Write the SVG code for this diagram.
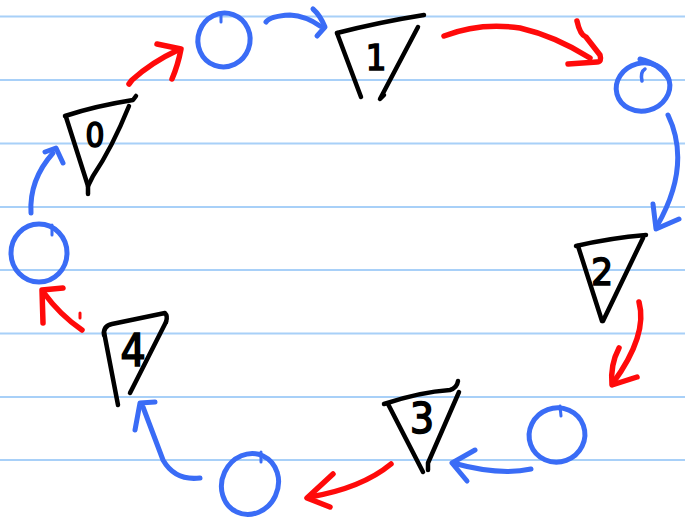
<svg xmlns="http://www.w3.org/2000/svg" width="685" height="520" viewBox="0 0 685 520">
<style>
.rule{stroke:#a8d0f8;stroke-width:2}
.tri{fill:none;stroke:#000;stroke-width:4.5;stroke-linecap:round;stroke-linejoin:round}
.lbl{font-family:"Liberation Sans Narrow","DejaVu Sans Condensed","Liberation Sans",sans-serif;font-weight:normal;fill:#000;stroke:#000;stroke-width:1.6;text-anchor:middle}
.circ{fill:none;stroke:#3a6cf6;stroke-width:5;stroke-linecap:round;stroke-linejoin:round}
.blue{fill:none;stroke:#3a6cf6;stroke-width:5;stroke-linecap:round;stroke-linejoin:round}
.red{fill:none;stroke:#ff0a0a;stroke-width:5.5;stroke-linecap:round;stroke-linejoin:round}
</style>
<rect width="685" height="520" fill="#fff"/>
<g id="paper-lines">
<line class="rule" x1="0" y1="16.5" x2="685" y2="16.5"/>
<line class="rule" x1="0" y1="80" x2="685" y2="80"/>
<line class="rule" x1="0" y1="143.5" x2="685" y2="143.5"/>
<line class="rule" x1="0" y1="207" x2="685" y2="207"/>
<line class="rule" x1="0" y1="270" x2="685" y2="270"/>
<line class="rule" x1="0" y1="333.5" x2="685" y2="333.5"/>
<line class="rule" x1="0" y1="397" x2="685" y2="397"/>
<line class="rule" x1="0" y1="460" x2="685" y2="460"/>
</g>
<g id="connectors">
<path class="red" d="M129,84 L132,80 Q152,62 178,50"/>
<path class="red" d="M157,44 L181,49 Q178,65 172,79"/>
<path class="blue" d="M266,22 Q270,16 290,15 Q306,16 320,26"/>
<path class="blue" d="M313,9 Q320,15 325,27 L317,36"/>
<path class="red" d="M444,36 Q480,22 520,28 Q555,36 590,58"/>
<path class="red" d="M577,21 Q580,35 586,37 L600,55 Q602,62 597,62 L568,64"/>
<path class="blue" d="M668,115 Q692,165 657,226"/>
<path class="blue" d="M653,204 L656,229 L679,219"/>
<path class="red" d="M639,302 Q648,335 613,383"/>
<path class="red" d="M619,348 Q610,365 612,385 L637,377"/>
<path class="blue" d="M531,469 Q500,476 453,463"/>
<path class="blue" d="M475,450 L452,463 L467,481"/>
<path class="red" d="M391,464 Q362,488 310,497"/>
<path class="red" d="M333,474 L307,498 L330,507"/>
<path class="blue" d="M200,478 Q175,481 163,460 L143,407"/>
<path class="blue" d="M155,402 L140,403 L135,430"/>
<path class="red" d="M82,330 Q60,315 44,293"/>
<path class="red" d="M63,288 L42,290 L43,323"/>
<path class="red" d="M80,313 L80,318" style="stroke-width:3"/>
<path class="blue" d="M31,213 Q29,180 53,153"/>
<path class="blue" d="M45,152 L56,148 L63,163"/>
</g>
<g id="node-0">
<path class="tri" d="M65,116 Q95,106 133,100 L136,96"/>
<path class="tri" d="M66,117 L88,186 L88,194"/>
<path class="tri" d="M129,106 Q112,148 93,176 L88,186"/>
<text class="lbl" x="95" y="147" font-size="33">0</text>
</g>
<g id="circle-a">
<ellipse class="circ" cx="224" cy="40" rx="26" ry="27" transform="rotate(20 224 40)"/>
<path class="circ" d="M221,14 L221,22" style="stroke-width:3"/>
</g>
<g id="node-1">
<path class="tri" d="M337,33 Q380,22 424,15"/>
<path class="tri" d="M337,33 L361,97"/>
<path class="tri" d="M418,27 L380,99 L384,95"/>
<text class="lbl" x="376" y="70" font-size="36">1</text>
</g>
<g id="circle-b">
<ellipse class="circ" cx="643" cy="87" rx="27" ry="24" transform="rotate(-15 643 87)"/>
<path class="circ" d="M640,59 Q660,64 668,78"/>
<path class="circ" d="M645,69 Q640,72 642,81" style="stroke-width:3.5"/>
</g>
<g id="node-2">
<path class="tri" d="M576,246 Q610,238 646,235"/>
<path class="tri" d="M578,246 L602,321"/>
<path class="tri" d="M643,238 L603,321"/>
<text class="lbl" x="602" y="285" font-size="38">2</text>
</g>
<g id="circle-c">
<ellipse class="circ" cx="557" cy="435" rx="28" ry="27" transform="rotate(-20 557 435)"/>
<path class="circ" d="M560,406 L561,416" style="stroke-width:3"/>
</g>
<g id="node-3">
<path class="tri" d="M384,404 Q420,392 450,390 Q457,388 458,381"/>
<path class="tri" d="M388,404 L423,472"/>
<path class="tri" d="M459,392 L428,463 L428,470"/>
<text class="lbl" x="422" y="433" font-size="42">3</text>
</g>
<g id="circle-d">
<ellipse class="circ" cx="250" cy="484" rx="28" ry="31" transform="rotate(25 250 484)"/>
<path class="circ" d="M261,452 L261,462" style="stroke-width:3"/>
</g>
<g id="node-4">
<path class="tri" d="M104,335 Q103,326 112,324 L165,313 Q168,316 166,322"/>
<path class="tri" d="M166,322 L130,393"/>
<path class="tri" d="M104,332 L118,405"/>
<text class="lbl" x="133" y="366" font-size="44">4</text>
</g>
<g id="circle-e">
<ellipse class="circ" cx="39" cy="253" rx="28" ry="29"/>
<path class="circ" d="M52,225 L52,235" style="stroke-width:3"/>
</g>
</svg>
